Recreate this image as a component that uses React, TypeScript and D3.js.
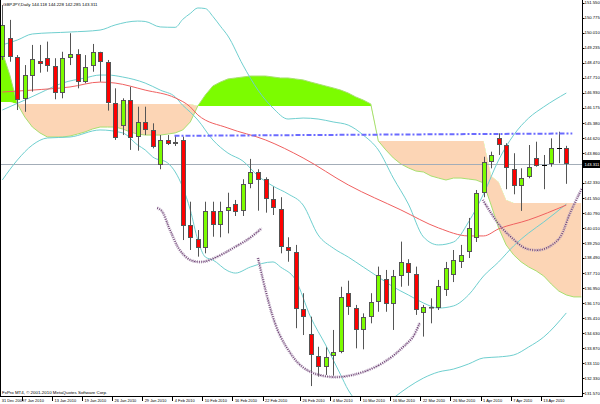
import React from "react";
import * as d3 from "d3";

const W = 600;
const H = 404;
const PLOT_R = 582;
const PLOT_B = 396;

const titleText = "GBPJPY,Daily  144.118 144.228 142.285 143.311";
const copyrightText = "FxPro MT4, \u00A9 2001-2010 MetaQuotes Software Corp.";

const candleOpen = [148.77,149.73,148.76,146.61,147.80,148.58,148.74,148.31,146.95,148.71,148.91,147.49,148.31,149.01,148.53,146.40,145.24,146.57,144.67,145.43,145.04,143.25,144.53,144.31,144.53,140.18,139.45,138.99,140.91,140.16,140.90,141.24,140.90,142.26,142.91,142.52,141.49,140.98,139.07,138.81,135.87,134.59,133.49,132.93,133.48,133.70,136.72,135.95,134.81,135.46,136.23,137.40,136.12,137.57,138.25,137.67,135.66,136.00,135.92,136.85,137.62,138.29,138.80,139.51,141.83,143.39,144.61,144.27,143.06,142.17,142.62,143.59,143.26,143.28,144.10,144.118];
const candleHigh = [151.43,150.67,148.87,148.36,149.39,149.39,149.56,148.71,149.04,149.99,149.17,148.87,149.44,149.04,148.62,147.17,146.66,147.25,146.23,146.23,145.38,144.78,144.78,144.78,144.70,141.37,139.92,141.37,141.37,141.37,141.83,141.46,142.52,143.56,143.03,142.62,142.14,141.60,139.55,139.16,136.69,135.49,133.95,133.92,134.81,137.02,137.33,136.09,135.66,136.69,138.05,137.88,137.88,139.33,138.43,138.05,136.09,136.43,137.37,138.29,138.90,139.16,140.54,141.97,143.67,143.93,144.87,144.36,143.85,143.08,144.27,144.44,143.76,144.61,144.95,144.228];
const candleLow = [148.62,148.53,146.06,145.97,147.00,147.97,148.02,146.61,146.66,148.36,147.17,147.43,148.02,147.51,146.03,144.53,144.78,144.02,143.98,144.78,144.10,143.03,144.27,144.22,139.41,138.90,138.56,138.73,139.58,139.55,139.75,140.64,140.64,142.06,140.91,140.81,140.69,138.73,138.30,134.90,134.55,131.94,132.42,132.51,132.46,133.62,135.58,133.87,133.82,135.15,135.74,135.74,134.81,137.02,137.07,135.58,134.47,135.15,135.83,136.55,137.26,137.98,138.49,139.31,141.60,143.08,143.76,142.01,141.75,140.90,142.57,143.16,142.01,143.16,143.34,142.285];
const candleClose = [150.41,148.76,146.57,147.85,148.65,148.40,148.31,146.95,148.71,148.93,147.51,148.25,149.04,148.53,146.40,144.61,146.57,144.61,145.46,145.04,144.18,144.53,144.32,144.44,140.13,139.50,138.99,140.91,140.18,140.90,141.08,140.86,142.26,142.91,142.48,141.49,141.03,139.04,138.85,135.87,135.49,133.53,132.93,133.44,133.70,136.51,136.00,134.81,135.46,136.23,137.61,136.12,137.57,138.27,137.71,135.83,136.00,135.92,137.06,137.98,138.39,138.65,140.03,141.80,143.42,143.76,144.27,143.11,142.19,142.60,143.13,143.21,143.26,144.10,144.10,143.311];
const lastPrice = 143.311;

// Ichimoku cloud, bars -1 .. 77
const spanA = [149.40,149.03,147.85,146.37,145.70,145.19,144.89,144.68,144.68,144.68,144.73,144.83,144.94,145.09,145.19,145.19,145.19,145.09,144.94,144.83,144.78,144.78,144.78,144.83,144.89,145.04,145.45,146.27,146.83,147.29,147.49,147.65,147.70,147.75,147.80,147.80,147.80,147.75,147.70,147.70,147.65,147.60,147.49,147.39,147.29,147.19,147.08,146.93,146.73,146.57,146.37,144.48,144.02,143.61,143.30,143.10,142.94,142.89,142.69,142.58,142.48,142.58,142.58,142.53,142.48,142.33,141.20,140.03,139.16,138.65,138.29,138.03,137.83,137.57,137.16,136.80,136.60,136.50,136.50];
const spanB = [146.47,146.47,146.47,146.37,146.37,146.37,146.37,146.37,146.37,146.37,146.37,146.37,146.37,146.37,146.37,146.37,146.37,146.37,146.37,146.37,146.37,146.37,146.37,146.37,146.37,146.37,146.37,146.27,146.27,146.27,146.27,146.27,146.27,146.27,146.27,146.27,146.27,146.27,146.27,146.27,146.27,146.27,146.27,146.27,146.27,146.27,146.27,146.27,146.27,146.27,146.27,144.48,144.48,144.48,144.48,144.48,144.48,144.48,144.48,144.48,144.48,144.48,144.48,144.48,144.48,144.48,142.69,142.38,141.46,141.31,141.31,141.31,141.31,141.31,141.31,141.31,141.31,141.31,141.31];

// Bollinger bands (read at sample bars)
const bbUpperBars = [0,2,4,9,13,15,18,19,21,23,24,25,26,27,28,29,30,32,34,36,38,40,42,44,46,48,50,52,54,56,58,60,62,64,66,68,70,72,75];
const bbUpperVals = [149.39,149.64,149.95,150.05,150.15,150.41,150.61,150.59,150.31,150.29,150.70,151.00,151.28,151.25,150.85,150.35,149.85,148.36,147.08,146.16,145.60,145.65,145.60,145.45,145.29,144.78,144.02,142.58,141.25,139.57,139.16,139.31,140.33,141.77,143.50,144.78,145.65,146.22,146.93];
const bbMidBars = [0,3,5,8,11,13,14,16,19,21,23,24,25,26,28,30,32,34,36,38,40,42,44,46,48,50,52,54,56,58,60,62,64,66,68,70,72,75];
const bbMidVals = [146.06,146.57,146.93,147.44,147.70,147.85,147.85,147.75,147.44,147.08,146.73,146.30,145.95,145.55,144.53,143.86,143.45,142.69,142.17,141.77,141.20,139.67,139.00,138.54,138.03,137.52,137.01,136.60,136.19,135.93,136.04,136.60,137.57,138.29,139.11,139.77,140.33,141.25];
const bbLowerBars = [0,2,4,6,9,13,16,18,19,20,22,24,25,26,27,28,30,31,33,36,37,39,41,43,45,46,47,50,52,54,56,58,60,62,64,66,68,70,72,75];
const bbLowerVals = [142.48,143.50,144.27,144.63,144.68,145.04,144.89,144.27,144.02,143.66,143.35,142.10,140.95,139.41,138.54,138.39,137.83,137.72,138.03,138.29,138.03,137.37,135.47,134.04,132.51,131.74,131.23,130.72,131.33,131.89,132.35,132.66,132.81,133.07,133.38,133.43,133.53,133.94,134.45,135.68];

// Moving average (red)
const maBars = [0,4,9,13,15,19,23,25,26,30,35,40,46,53,58,62,64,66,70,75];
const maVals = [146.98,147.08,147.24,147.49,147.44,147.08,146.68,146.22,145.81,145.14,144.53,143.61,142.23,140.95,140.03,139.62,139.62,139.98,140.44,141.20];

// Drawn objects
const resistanceBars = [22.9, 75.8];
const resistanceVals = [144.74, 144.86];
const arc1Bars = [20.6,21.2,22.3,23.6,25.0,26.7,28.6,30.7,32.9,34.5];
const arc1Vals = [141.05,140.90,139.92,138.90,138.39,138.30,138.56,139.00,139.51,140.02];
const arc2Bars = [34.0,35.0,35.9,36.9,38.3,39.6,41.3,44.0,46.6,49.3,51.6,53.3,54.6,55.5];
const arc2Vals = [138.49,136.85,135.58,134.55,133.63,133.02,132.61,132.40,132.51,132.86,133.38,133.94,134.45,135.17];
const arc3Bars = [63.9,64.9,66.2,67.8,69.5,71.5,73.1,74.2,75.5,77.1];
const arc3Vals = [141.46,140.84,140.13,139.51,139.00,138.90,139.16,139.57,140.79,142.07];

const priceTickLabels = ["151.550","150.775","150.010","149.235","148.470","147.710","146.930","146.175","145.380","144.620","143.860","142.330","141.550","140.790","140.010","139.250","138.490","137.710","136.950","136.170","135.410","134.630","133.870","133.110","132.330","131.570"];
const dateLabelBars = [0,3,7,11,15,19,23,27,31,35,40,44,48,52,56,60,64,68,72];
const dateLabels = ["31 Dec 2009","7 Jan 2010","13 Jan 2010","19 Jan 2010","26 Jan 2010","29 Jan 2010","4 Feb 2010","10 Feb 2010","16 Feb 2010","22 Feb 2010","26 Feb 2010","4 Mar 2010","10 Mar 2010","16 Mar 2010","22 Mar 2010","26 Mar 2010","1 Apr 2010","7 Apr 2010","13 Apr 2010"];

const FONT = "'Liberation Sans', Arial, sans-serif";

export default function App() {
  const xs = d3.scaleLinear().domain([0, 75]).range([2.3, 566.3]);
  const ys = d3.scaleLinear().domain([131.57, 151.55]).range([393.3, 2.7]);

  const cloudBars = spanA.map((_, i) => i - 1);
  const areaAB = d3.area<number>().x((b) => xs(b)).y0((b) => ys(spanA[b + 1])).y1((b) => ys(spanB[b + 1]));
  const aboveB = d3.area<number>().x((b) => xs(b)).y0(-10).y1((b) => ys(spanB[b + 1]));
  const belowB = d3.area<number>().x((b) => xs(b)).y0((b) => ys(spanB[b + 1])).y1(PLOT_B + 10);
  const spanALine = d3.line<number>().x((b) => xs(b)).y((b) => ys(spanA[b + 1]));

  const zip = (bars: number[], vals: number[]) => bars.map((b, i) => [b, vals[i]] as [number, number]);
  const smooth = d3.line<[number, number]>().x((d) => xs(d[0])).y((d) => ys(d[1])).curve(d3.curveMonotoneX);
  const freehand = d3.line<[number, number]>().x((d) => xs(d[0])).y((d) => ys(d[1])).curve(d3.curveCatmullRom);
  const straight = d3.line<[number, number]>().x((d) => xs(d[0])).y((d) => ys(d[1]));

  const priceY = Math.round(ys(lastPrice)) + 0.5;
  const arcs = [zip(arc1Bars, arc1Vals), zip(arc2Bars, arc2Vals), zip(arc3Bars, arc3Vals)];

  return (
    <svg width={W} height={H} style={{ position: "absolute", left: 0, top: 0, background: "#fff" }}>
      <defs>
        <clipPath id="plotClip"><rect x={0} y={0} width={PLOT_R} height={PLOT_B} /></clipPath>
        <clipPath id="aboveB"><path d={aboveB(cloudBars) || ""} /></clipPath>
        <clipPath id="belowB"><path d={belowB(cloudBars) || ""} /></clipPath>
      </defs>
      <rect x={0} y={0} width={W} height={H} fill="#fff" />
      <g clipPath="url(#plotClip)">
        <g clipPath="url(#aboveB)">
          <path d={areaAB(cloudBars) || ""} fill="#7CFC00" />
        </g>
        <g clipPath="url(#belowB)">
          <path d={areaAB(cloudBars) || ""} fill="#FCD5B5" />
        </g>
        <path d={spanALine(cloudBars) || ""} fill="none" stroke="#A8E070" strokeWidth={1} />
        <line x1={0} x2={PLOT_R} y1={priceY} y2={priceY} stroke="#A3ADB8" strokeWidth={1} />
        <path d={smooth(zip(bbUpperBars, bbUpperVals)) || ""} fill="none" stroke="#6FCFCF" strokeWidth={1} />
        <path d={smooth(zip(bbMidBars, bbMidVals)) || ""} fill="none" stroke="#6FCFCF" strokeWidth={1} />
        <path d={smooth(zip(bbLowerBars, bbLowerVals)) || ""} fill="none" stroke="#6FCFCF" strokeWidth={1} />
        <path d={smooth(zip(maBars, maVals)) || ""} fill="none" stroke="#F06060" strokeWidth={1} />
        {candleOpen.map((o, i) => {
          const c = candleClose[i];
          const cx = Math.round(xs(i));
          const top = Math.round(ys(Math.max(o, c)));
          const bot = Math.round(ys(Math.min(o, c)));
          const hi = ys(candleHigh[i]);
          const lo = ys(candleLow[i]);
          const up = c > o;
          const doji = o === c;
          return (
            <g key={i}>
              <line x1={cx + 0.5} x2={cx + 0.5} y1={hi} y2={lo} stroke="#555" strokeWidth={1} />
              {doji ? (
                <line x1={cx - 2} x2={cx + 3} y1={top + 0.5} y2={top + 0.5} stroke="#000" strokeWidth={1} />
              ) : (
                <rect x={cx - 1.5} y={top + 0.5} width={4} height={Math.max(bot - top - 1, 0.5)}
                  fill={up ? "#7CFC00" : "#FF0000"} stroke="#555" strokeWidth={1} />
              )}
            </g>
          );
        })}
        <path d={straight(zip(resistanceBars, resistanceVals)) || ""} fill="none" stroke="#6B6BFF" strokeWidth={2} strokeDasharray="5 2 2 2" />
        {arcs.map((a, i) => (
          <g key={i}>
            <path d={freehand(a) || ""} fill="none" stroke="#B7A2BE" strokeWidth={3} strokeDasharray="1 1" />
            <path d={freehand(a) || ""} fill="none" stroke="#6A3D6E" strokeWidth={1.3} strokeDasharray="1 1.4" />
          </g>
        ))}
        <text x={3} y={6.4} fontFamily={FONT} fontSize={4.35} fill="#000">{titleText}</text>
        <text x={2} y={394.3} fontFamily={FONT} fontSize={4.4} fill="#000">{copyrightText}</text>
      </g>
      <line x1={0.5} x2={0.5} y1={0} y2={PLOT_B} stroke="#000" strokeWidth={1} />
      <line x1={0} x2={PLOT_R + 0.5} y1={PLOT_B + 0.5} y2={PLOT_B + 0.5} stroke="#000" strokeWidth={1} />
      <line x1={PLOT_R + 0.5} x2={PLOT_R + 0.5} y1={0} y2={PLOT_B + 1} stroke="#000" strokeWidth={1} />
      {priceTickLabels.map((t) => {
        const yy = ys(parseFloat(t));
        return (
          <g key={t}>
            <line x1={PLOT_R} x2={PLOT_R + 2.5} y1={Math.round(yy) + 0.5} y2={Math.round(yy) + 0.5} stroke="#000" strokeWidth={1} />
            <text x={584.6} y={yy} dy="0.35em" fontFamily={FONT} fontSize={4.2} fill="#000">{t}</text>
          </g>
        );
      })}
      <rect x={PLOT_R + 1} y={priceY - 4.5} width={W - PLOT_R - 1} height={8} fill="#000" />
      <text x={584.6} y={priceY} dy="0.35em" fontFamily={FONT} fontSize={4.2} fill="#fff">{lastPrice.toFixed(3)}</text>
      {dateLabelBars.map((b, i) => {
        const xx = xs(b);
        return (
          <g key={i}>
            <line x1={Math.round(xx) - 2.5} x2={Math.round(xx) - 2.5} y1={PLOT_B} y2={PLOT_B + 5} stroke="#000" strokeWidth={1} />
            <text x={xx - 0.5} y={401.5} fontFamily={FONT} fontSize={3.95} fill="#000">{dateLabels[i]}</text>
          </g>
        );
      })}
    </svg>
  );
}
